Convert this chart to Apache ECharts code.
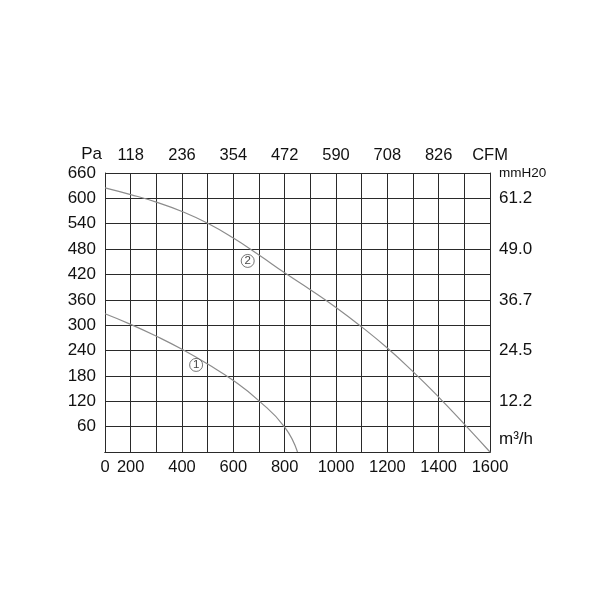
<!DOCTYPE html>
<html>
<head>
<meta charset="utf-8">
<script src="https://cdn.jsdelivr.net/npm/echarts@6/dist/echarts.min.js"></script>
<style>html,body{margin:0;padding:0;background:#fff;}#c{width:600px;height:600px;}</style>
</head>
<body>
<div id="c"></div>
<script>
// Flow axis (m3/h). Note: the reference's first grid column spans 0..200, later ones 100 each;
// the axis is therefore drawn from 100 (labelled "0") to 1600 in steps of 100.
const flowTicks = [100, 200, 400, 600, 800, 1000, 1200, 1400, 1600];
const flowTickLabels = ['0', '200', '400', '600', '800', '1000', '1200', '1400', '1600'];
const cfmTicks = [200, 400, 600, 800, 1000, 1200, 1400, 1600];
const cfmTickLabels = ['118', '236', '354', '472', '590', '708', '826', 'CFM'];
const paTicks = [60, 120, 180, 240, 300, 360, 420, 480, 540, 600, 660];
const mmTicks = [30, 120, 240, 360, 480, 600, 660];
const mmTickLabels = ['m³/h', '12.2', '24.5', '36.7', '49.0', '61.2', 'mmH20'];

// Curves: [flow m3/h, pressure Pa]
const curve1 = [[100, 327], [200, 302], [300, 274], [400, 243], [500, 208], [600, 169], [700, 121], [800, 59], [850, 0]];
const curve2 = [[100, 625], [200, 609], [300, 591], [400, 569], [500, 541], [600, 506], [700, 466], [800, 424], [900, 384], [1000, 342], [1100, 296], [1200, 246], [1300, 190], [1400, 130], [1500, 66], [1600, 0]];
const curveMarks = [[455, 206, '1'], [656, 452, '2']];

const chart = echarts.init(document.getElementById('c'));
const F = 'Liberation Sans, Arial, sans-serif';
const gridColor = '#2a2a2a';
function lookup(ticks, labels) {
  return function (v) { const i = ticks.indexOf(Math.round(v)); return i >= 0 ? labels[i] : ''; };
}
chart.setOption({
  backgroundColor: '#fff',
  animation: false,
  grid: { left: 105, right: 110, top: 173, bottom: 148, containLabel: false },
  xAxis: [
    {
      type: 'value', position: 'bottom', min: 100, max: 1600, interval: 100,
      axisLine: { show: true, lineStyle: { color: gridColor, width: 1 } },
      axisTick: { show: false },
      splitLine: { show: true, lineStyle: { color: gridColor, width: 1 } },
      axisLabel: { formatter: lookup(flowTicks, flowTickLabels), fontFamily: F, fontSize: 16.5, color: '#111', margin: 7, showMinLabel: true, showMaxLabel: true, hideOverlap: false }
    },
    {
      type: 'value', position: 'top', min: 100, max: 1600, interval: 100,
      axisLine: { show: true, lineStyle: { color: gridColor, width: 1 } },
      axisTick: { show: false },
      splitLine: { show: false },
      axisLabel: { formatter: lookup(cfmTicks, cfmTickLabels), fontFamily: F, fontSize: 16.5, color: '#111', margin: 9, showMinLabel: true, showMaxLabel: true, hideOverlap: false }
    }
  ],
  yAxis: [
    {
      type: 'value', position: 'left', min: 0, max: 660, interval: 60,
      name: 'Pa', nameLocation: 'end', nameGap: 10,
      nameTextStyle: { fontFamily: F, fontSize: 17, color: '#111', align: 'right', padding: [0, 3, 0, 0] },
      axisLine: { show: true, lineStyle: { color: gridColor, width: 1 } },
      axisTick: { show: false },
      splitLine: { show: true, lineStyle: { color: gridColor, width: 1 } },
      axisLabel: { formatter: lookup(paTicks, paTicks.map(String)), fontFamily: F, fontSize: 17, color: '#111', margin: 9, showMaxLabel: true }
    },
    {
      type: 'value', position: 'right', min: 0, max: 660, interval: 30,
      axisLine: { show: true, lineStyle: { color: gridColor, width: 1 } },
      axisTick: { show: false },
      splitLine: { show: false },
      axisLabel: {
        formatter: function (v) {
          const s = lookup(mmTicks, mmTickLabels)(v);
          if (s === 'mmH20') return '{s|' + s + '}';
          return s;
        },
        rich: { s: { fontFamily: F, fontSize: 13.5, color: '#111' } },
        fontFamily: F, fontSize: 17, color: '#111', margin: 9, showMaxLabel: true, hideOverlap: false
      }
    }
  ],
  series: [
    {
      type: 'line', data: curve1, smooth: 0.5, showSymbol: false, symbol: 'none',
      lineStyle: { color: '#8c8c8c', width: 1.2 }, z: 3
    },
    {
      type: 'line', data: curve2, smooth: 0.5, showSymbol: false, symbol: 'none',
      lineStyle: { color: '#8c8c8c', width: 1.2 }, z: 3
    },
    {
      type: 'scatter', data: curveMarks.map(d => [d[0], d[1], d[2]]),
      symbol: 'circle', symbolSize: 13,
      itemStyle: { color: '#fff', borderColor: '#555', borderWidth: 1 },
      label: { show: true, position: 'inside', formatter: p => p.data[2], fontFamily: F, fontSize: 11.5, color: '#111' },
      z: 4
    }
  ]
});
</script>
</body>
</html>
